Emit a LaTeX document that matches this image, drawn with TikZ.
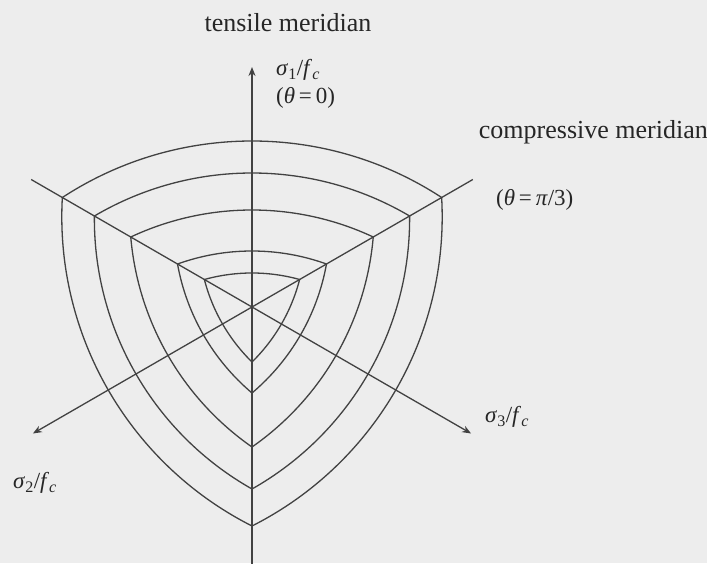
\documentclass[tikz,border=0pt]{standalone}
\usepackage{fontspec}
\setmainfont{Liberation Serif}
\usetikzlibrary{arrows.meta,calc}
\definecolor{bgc}{HTML}{EDEDED}
\definecolor{inkc}{HTML}{424242}
\definecolor{txtc}{HTML}{262626}
\tikzset{
  axisline/.style={draw=inkc, line width=1.7pt},
  curveline/.style={draw=inkc, line width=1.3pt},
  axisarrow/.style={-{Stealth[length=9pt,width=7pt]}},
  bigtext/.style={text=txtc, font=\fontsize{26}{30}\selectfont, inner sep=0pt},
  mathtext/.style={text=txtc, font=\fontsize{23}{27}\selectfont, inner sep=0pt},
}
\newcommand\triarc[2]{%
  \pgfmathsetmacro\rtt{#1/100}%
  \pgfmathsetmacro\rcc{#2/100}%
  \pgfmathsetmacro\cc{100*(\rtt*\rtt-\rcc*\rcc)/(2*\rtt-\rcc)}%
  \pgfmathsetmacro\RR{#1-\cc}%
  \pgfmathsetmacro\al{atan2(#2*0.5-\cc, #2*0.8660254)}%
  \foreach \ph in {90,210,330} {%
    \draw[curveline] (\ph-60:#2) arc[start angle=\ph-90+\al, end angle=\ph+90-\al, radius=\RR];
  }%
}
\begin{document}
\begin{tikzpicture}[x=1pt,y=1pt]
  \fill[bgc] (-252,-256) rectangle (455,307);
  \useasboundingbox (-252,-256) rectangle (455,307);
  % centre and axis ends
  \coordinate (O) at (0,0);
  \coordinate (top) at (90:240);
  \coordinate (bot) at (270:257);
  \coordinate (ul) at (150:255);
  \coordinate (lr) at (330:253);
  \coordinate (ur) at (30:255);
  \coordinate (ll) at (210:253);
  % curved triangles
  \triarc{166}{219}
  \triarc{134}{182}
  \triarc{97}{140}
  \triarc{56}{86}
  \triarc{34}{55}
  % axes
  \draw[axisline, axisarrow] (bot) -- (top);
  \draw[curveline, axisarrow] (ul) -- (lr);
  \draw[curveline, axisarrow] (ur) -- (ll);
  % labels
  \node[bigtext] (tm) at (36,284) {tensile meridian};
  \node[mathtext, anchor=west] (s1) at (24,237) {\textit{σ}\textsubscript{1}/\textit{f}\textsubscript{\textit{c}}};
  \node[mathtext, anchor=west] (t0) at (24,209) {(\textit{θ}\,=\,0)};
  \node[bigtext, anchor=east] (cm) at (456,175) {compressive meridian};
  \node[mathtext, anchor=west] (t3) at (244,107) {(\textit{θ}\,=\,\textit{π}/3)};
  \node[mathtext, anchor=west] (s3) at (233,-110) {\textit{σ}\textsubscript{3}/\textit{f}\textsubscript{\textit{c}}};
  \node[mathtext, anchor=west] (s2) at (-239,-176) {\textit{σ}\textsubscript{2}/\textit{f}\textsubscript{\textit{c}}};
\end{tikzpicture}
\end{document}
